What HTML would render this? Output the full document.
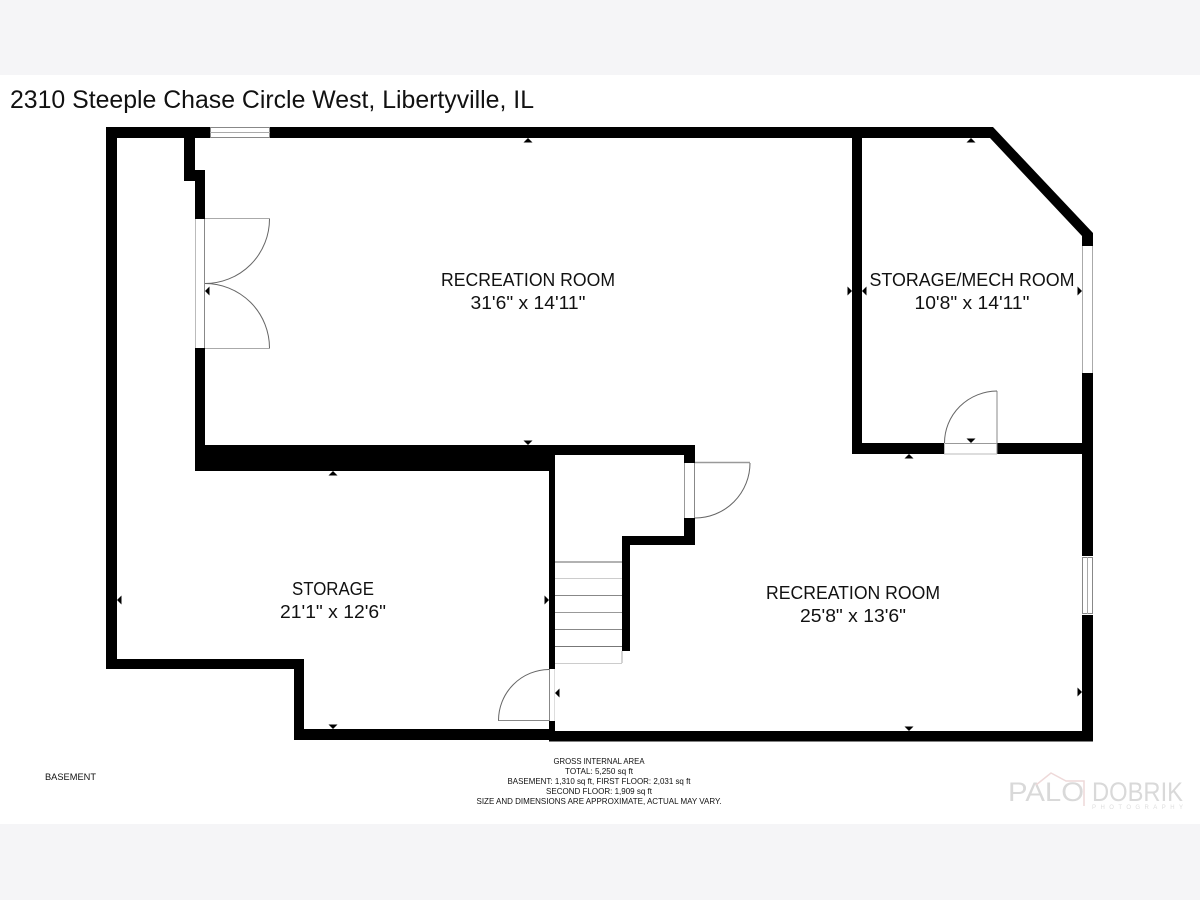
<!DOCTYPE html>
<html><head><meta charset="utf-8"><style>
html,body{margin:0;padding:0;background:#fff}
svg{display:block}
text{font-family:"Liberation Sans",sans-serif;fill:#111}
</style></head><body>
<svg width="1200" height="900" viewBox="0 0 1200 900" xmlns="http://www.w3.org/2000/svg">
<rect width="1200" height="900" fill="#fff"/>
<rect width="1200" height="75" fill="#f5f5f7"/>
<rect y="824" width="1200" height="76" fill="#f5f5f7"/>
<text x="10" y="108" font-size="25" textLength="524" lengthAdjust="spacingAndGlyphs">2310 Steeple Chase Circle West, Libertyville, IL</text>

<!-- walls -->
<g fill="#000">
<rect x="106" y="127" width="104" height="11"/>
<rect x="270" y="127" width="723" height="11"/>
<rect x="106" y="127" width="11" height="542"/>
<rect x="184" y="138" width="11" height="43"/>
<rect x="195" y="170" width="10" height="49"/>
<rect x="195" y="348" width="10" height="123"/>
<rect x="195" y="445" width="360" height="26"/>
<rect x="555" y="445" width="140" height="10"/>
<rect x="684" y="455" width="11" height="8"/>
<rect x="684" y="518" width="11" height="27"/>
<rect x="622" y="536" width="73" height="9"/>
<rect x="622" y="536" width="8" height="115"/>
<rect x="549" y="471" width="6" height="198"/>
<rect x="549" y="721" width="6" height="20"/>
<rect x="106" y="659" width="198" height="10"/>
<rect x="294" y="659" width="10" height="81"/>
<rect x="294" y="729" width="255" height="11"/>
<rect x="549" y="731" width="544" height="10.500"/>
<rect x="852" y="138" width="10" height="316"/>
<rect x="852" y="443" width="92" height="11"/>
<rect x="997" y="443" width="85" height="11"/>
<polygon points="990,127 993,127 1093,233 1093,246 1082,246 1082,236 990,138"/>
<rect x="1082" y="373" width="11" height="183"/>
<rect x="1082" y="615" width="11" height="126"/>
</g>

<!-- windows, doors, stairs -->
<g fill="none" stroke="#888" stroke-width="1">
<rect x="210.500" y="127.500" width="59" height="10"/>
<line x1="210" y1="132.500" x2="270" y2="132.500" stroke="#aaa"/>
<line x1="1082.500" y1="246" x2="1082.500" y2="373" stroke="#aaa"/>
<line x1="1092.500" y1="246" x2="1092.500" y2="373" stroke="#aaa"/>
<rect x="1082.500" y="557.500" width="10" height="56"/>
<line x1="1087.500" y1="557" x2="1087.500" y2="614" stroke="#aaa"/>

<line x1="195.500" y1="219" x2="195.500" y2="348" stroke="#bbb"/>
<line x1="204.500" y1="219" x2="204.500" y2="348"/>
<line x1="205" y1="218.500" x2="270" y2="218.500" stroke="#aaa"/>
<line x1="205" y1="348.500" x2="270" y2="348.500" stroke="#aaa"/>
<path d="M269.500 219A64.500 64.500 0 0 1 205 283.500A64.500 64.500 0 0 1 269.500 348" stroke="#666"/>

<line x1="997" y1="391" x2="997" y2="454"/>
<line x1="944" y1="443.500" x2="997" y2="443.500" stroke="#999"/>
<line x1="944" y1="454" x2="997" y2="454" stroke="#bbb"/>
<line x1="944.500" y1="443" x2="944.500" y2="454" stroke="#bbb"/>
<path d="M997 391A53 52 0 0 0 944.500 443" stroke="#666"/>

<line x1="684.500" y1="463" x2="684.500" y2="518" stroke="#999"/>
<line x1="694.500" y1="463" x2="694.500" y2="518"/>
<line x1="695" y1="462.500" x2="750" y2="462.500" stroke="#999" stroke-width="1.500"/>
<path d="M750 463A55 55 0 0 1 695 518" stroke="#666"/>

<line x1="549.500" y1="669" x2="549.500" y2="721"/>
<line x1="554.500" y1="669" x2="554.500" y2="721" stroke="#ddd"/>
<line x1="498" y1="720.500" x2="549" y2="720.500" stroke="#888"/>
<path d="M549 669.500A51 51 0 0 0 498.500 720.500" stroke="#666"/>

<g>
<line x1="555" y1="562" x2="622" y2="562" stroke="#999" stroke-width="1.500"/>
<line x1="555" y1="578.500" x2="622" y2="578.500" stroke="#ccc"/>
<line x1="555" y1="595.500" x2="622" y2="595.500" stroke="#888"/>
<line x1="555" y1="612.500" x2="622" y2="612.500" stroke="#999"/>
<line x1="555" y1="629.500" x2="622" y2="629.500" stroke="#888"/>
<line x1="555" y1="646.500" x2="622" y2="646.500" stroke="#777"/>
<line x1="555" y1="663.500" x2="622" y2="663.500" stroke="#ccc"/>
<line x1="622" y1="651" x2="622" y2="663" stroke="#aaa"/>
</g>
</g>

<!-- dimension markers -->
<g fill="#000">
<polygon points="528,138 523.500,142.500 532.500,142.500"/>
<polygon points="971,138 966.500,142.500 975.500,142.500"/>
<polygon points="528,445 523.500,440.500 532.500,440.500"/>
<polygon points="333,471 328.500,475.500 337.500,475.500"/>
<polygon points="909,454 904.500,458.500 913.500,458.500"/>
<polygon points="971,443 966.500,438.500 975.500,438.500"/>
<polygon points="333,729 328.500,724.500 337.500,724.500"/>
<polygon points="909,731 904.500,726.500 913.500,726.500"/>
<polygon points="117,600 121.500,595.500 121.500,604.500"/>
<polygon points="205,291 209.500,286.500 209.500,295.500"/>
<polygon points="549,600 544.500,595.500 544.500,604.500"/>
<polygon points="852,291 847.500,286.500 847.500,295.500"/>
<polygon points="862,291 866.500,286.500 866.500,295.500"/>
<polygon points="1082,291 1077.500,286.500 1077.500,295.500"/>
<polygon points="555,693 559.500,688.500 559.500,697.500"/>
<polygon points="1082,692 1077.500,687.500 1077.500,696.500"/>
</g>

<!-- room labels -->
<g font-size="18" text-anchor="middle">
<text x="528" y="286" textLength="174" lengthAdjust="spacingAndGlyphs">RECREATION ROOM</text>
<text x="528" y="309" textLength="115" lengthAdjust="spacingAndGlyphs">31'6" x 14'11"</text>
<text x="972" y="286" textLength="205" lengthAdjust="spacingAndGlyphs">STORAGE/MECH ROOM</text>
<text x="972" y="309" textLength="115" lengthAdjust="spacingAndGlyphs">10'8" x 14'11"</text>
<text x="333" y="595" textLength="82" lengthAdjust="spacingAndGlyphs">STORAGE</text>
<text x="333" y="618" textLength="106" lengthAdjust="spacingAndGlyphs">21'1" x 12'6"</text>
<text x="853" y="599" textLength="174" lengthAdjust="spacingAndGlyphs">RECREATION ROOM</text>
<text x="853" y="622" textLength="106" lengthAdjust="spacingAndGlyphs">25'8" x 13'6"</text>
</g>

<text x="45" y="780" font-size="9" textLength="51" lengthAdjust="spacingAndGlyphs" fill="#333">BASEMENT</text>

<g font-size="8.500" text-anchor="middle" style="fill:#333">
<text x="599" y="764" textLength="91" lengthAdjust="spacingAndGlyphs">GROSS INTERNAL AREA</text>
<text x="599" y="774" textLength="68" lengthAdjust="spacingAndGlyphs">TOTAL: 5,250 sq ft</text>
<text x="599" y="784" textLength="183" lengthAdjust="spacingAndGlyphs">BASEMENT: 1,310 sq ft, FIRST FLOOR: 2,031 sq ft</text>
<text x="599" y="794" textLength="106" lengthAdjust="spacingAndGlyphs">SECOND FLOOR: 1,909 sq ft</text>
<text x="599" y="804" textLength="245" lengthAdjust="spacingAndGlyphs">SIZE AND DIMENSIONS ARE APPROXIMATE, ACTUAL MAY VARY.</text>
</g>

<!-- logo -->
<g>
<text x="1008" y="801" font-size="27" textLength="76" lengthAdjust="spacingAndGlyphs" style="fill:#d9d9d9">PALO</text>
<text x="1092" y="801" font-size="27" textLength="91" lengthAdjust="spacingAndGlyphs" style="fill:#d9d9d9">DOBRIK</text>
<text x="1092" y="809" font-size="6" textLength="91" lengthAdjust="spacing" style="fill:#dedede">PHOTOGRAPHY</text>
<path d="M1036 785L1051 773L1066 781H1084V806" fill="none" stroke="#eed9d9" stroke-width="1.500"/>
</g>
</svg>
</body></html>
